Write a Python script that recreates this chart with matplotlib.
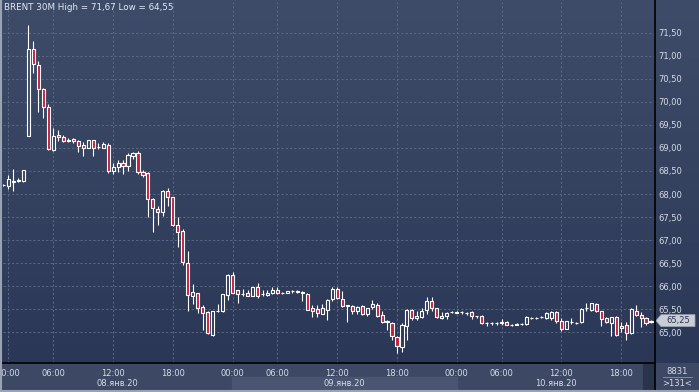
import numpy as np
import matplotlib
matplotlib.use("Agg")
import matplotlib.pyplot as plt
from matplotlib.colors import LinearSegmentedColormap
from matplotlib.patches import Rectangle, Polygon
from matplotlib.lines import Line2D
from matplotlib.transforms import blended_transform_factory

# BRENT 30M candles (open, high, low, close)
opens = [68.20, 68.18, 68.27, 68.28, 68.29, 69.25, 71.15, 70.81, 70.29, 69.90,
         68.96, 69.28, 69.23, 69.17, 69.20, 69.15, 69.06, 68.99, 69.17, 69.03,
         69.01, 69.06, 68.50, 68.59, 68.67, 68.60, 68.83, 68.90, 68.48, 68.45,
         67.90, 67.67, 67.60, 68.06, 67.93, 67.33, 67.19, 66.50, 65.78, 65.85,
         65.54, 65.43, 64.94, 65.46, 65.47, 65.81, 66.25, 65.91, 65.83, 65.86,
         65.79, 65.99, 65.83, 65.80, 65.85, 65.92, 65.86, 65.86, 65.89, 65.88,
         65.88, 65.83, 65.52, 65.50, 65.40, 65.49, 65.71, 65.94, 65.72, 65.58,
         65.57, 65.45, 65.57, 65.40, 65.54, 65.59, 65.38, 65.25, 65.20, 64.89,
         64.67, 65.13, 65.49, 65.30, 65.33, 65.49, 65.67, 65.52, 65.30, 65.36,
         65.43, 65.42, 65.43, 65.42, 65.43, 65.35, 65.36, 65.20, 65.20, 65.20,
         65.19, 65.22, 65.16, 65.16, 65.18, 65.18, 65.31, 65.31, 65.32, 65.30,
         65.30, 65.43, 65.25, 65.06, 65.22, 65.20, 65.22, 65.52, 65.49, 65.62,
         65.45, 65.30, 65.20, 65.33, 65.14, 65.16, 64.99, 65.47, 65.38, 65.30,
         65.23]
highs = [68.22, 68.41, 68.55, 68.35, 68.52, 71.67, 71.33, 70.88, 70.31, 69.95,
         69.43, 69.38, 69.28, 69.21, 69.21, 69.17, 69.12, 69.18, 69.17, 69.10,
         69.12, 69.10, 68.67, 68.74, 68.74, 68.90, 68.92, 68.94, 68.52, 68.47,
         67.92, 67.73, 68.08, 68.14, 67.94, 67.50, 67.24, 66.77, 66.05, 65.85,
         65.60, 65.45, 65.45, 65.62, 65.83, 66.26, 66.30, 65.91, 65.93, 65.91,
         65.99, 66.07, 65.91, 65.92, 65.99, 65.99, 65.88, 65.90, 65.92, 65.92,
         65.90, 65.85, 65.59, 65.59, 65.62, 65.72, 65.98, 65.98, 65.90, 65.60,
         65.60, 65.57, 65.59, 65.52, 65.69, 65.63, 65.47, 65.27, 65.23, 64.91,
         65.19, 65.51, 65.51, 65.46, 65.52, 65.76, 65.77, 65.53, 65.44, 65.44,
         65.45, 65.45, 65.45, 65.43, 65.45, 65.36, 65.37, 65.23, 65.21, 65.21,
         65.28, 65.24, 65.18, 65.19, 65.19, 65.35, 65.33, 65.32, 65.35, 65.43,
         65.45, 65.45, 65.30, 65.25, 65.30, 65.22, 65.52, 65.64, 65.64, 65.64,
         65.47, 65.33, 65.33, 65.35, 65.21, 65.23, 65.53, 65.59, 65.43, 65.32,
         65.27]
lows = [68.18, 68.11, 68.07, 68.25, 68.26, 69.25, 70.62, 69.78, 69.64, 68.96,
        68.94, 69.15, 69.13, 69.13, 69.10, 68.92, 68.83, 68.99, 68.83, 68.97,
        68.99, 68.45, 68.43, 68.47, 68.43, 68.51, 68.77, 68.43, 68.38, 67.50,
        67.17, 67.33, 67.53, 67.75, 67.31, 66.86, 66.45, 65.45, 65.62, 65.42,
        65.05, 64.96, 64.91, 65.44, 65.44, 65.69, 65.86, 65.64, 65.79, 65.78,
        65.78, 65.74, 65.78, 65.78, 65.83, 65.83, 65.83, 65.84, 65.86, 65.86,
        65.67, 65.48, 65.33, 65.33, 65.39, 65.27, 65.68, 65.71, 65.54, 65.23,
        65.40, 65.40, 65.38, 65.35, 65.50, 65.33, 65.20, 65.04, 64.82, 64.55,
        64.57, 64.84, 65.27, 65.27, 65.30, 65.40, 65.47, 65.31, 65.28, 65.29,
        65.41, 65.41, 65.40, 65.37, 65.29, 65.31, 65.18, 65.13, 65.16, 65.16,
        65.15, 65.15, 65.13, 65.15, 65.15, 65.16, 65.28, 65.29, 65.30, 65.28,
        65.27, 65.20, 65.02, 65.06, 65.18, 65.18, 65.19, 65.47, 65.45, 65.43,
        65.14, 65.19, 64.91, 64.91, 65.01, 64.84, 64.97, 65.35, 65.11, 65.16,
        65.19]
closes = [68.20, 68.32, 68.29, 68.31, 68.52, 71.15, 70.83, 70.29, 69.88, 68.97,
          69.26, 69.23, 69.15, 69.16, 69.15, 69.05, 69.01, 69.17, 69.01, 69.03,
          69.08, 68.50, 68.58, 68.68, 68.60, 68.85, 68.90, 68.48, 68.42, 67.90,
          67.69, 67.62, 68.06, 67.93, 67.33, 67.17, 66.52, 65.81, 65.87, 65.53,
          65.42, 64.98, 65.45, 65.47, 65.83, 66.25, 65.86, 65.83, 65.83, 65.79,
          65.98, 65.78, 65.83, 65.86, 65.91, 65.85, 65.86, 65.89, 65.89, 65.90,
          65.85, 65.49, 65.47, 65.41, 65.52, 65.70, 65.94, 65.75, 65.57, 65.57,
          65.45, 65.54, 65.40, 65.52, 65.62, 65.35, 65.23, 65.22, 64.91, 64.70,
          65.16, 65.49, 65.30, 65.35, 65.47, 65.67, 65.52, 65.33, 65.36, 65.42,
          65.43, 65.43, 65.43, 65.42, 65.34, 65.35, 65.20, 65.20, 65.20, 65.20,
          65.21, 65.16, 65.16, 65.17, 65.18, 65.33, 65.31, 65.31, 65.32, 65.41,
          65.43, 65.25, 65.06, 65.25, 65.22, 65.20, 65.51, 65.52, 65.64, 65.45,
          65.28, 65.23, 65.33, 64.93, 65.09, 64.99, 65.51, 65.38, 65.30, 65.20,
          65.25]

tick_idx = [1, 10, 22, 34, 46, 55, 67, 79, 91, 100, 112, 124]
tick_labels = ["00:00", "06:00", "12:00", "18:00", "00:00", "06:00", "12:00",
               "18:00", "00:00", "06:00", "12:00", "18:00"]
day_bounds = [-0.1, 45.8, 91.0, 130.8]
day_labels = ["08.янв.20", "09.янв.20", "10.янв.20"]
price_ticks = [65.0, 65.5, 66.0, 66.5, 67.0, 67.5, 68.0, 68.5, 69.0, 69.5,
               70.0, 70.5, 71.0, 71.5]

W, H = 699, 392
txt = "#d6dbe4"


def frect(x0, y0, x1, y1):
    return [x0 / W, 1 - y1 / H, (x1 - x0) / W, (y1 - y0) / H]


fig = plt.figure(figsize=(W / 100, H / 100), dpi=100)
fig.patch.set_facecolor("#3d4964")

# gradient background
bg_cmap = LinearSegmentedColormap.from_list("bg", ["#3e4c69", "#2b3756"])
bg = fig.add_axes(frect(0, 0, W, 363))
bg.imshow(np.linspace(0, 1, 256)[:, None], aspect="auto", cmap=bg_cmap,
          extent=[0, 1, 0, 1])
bg.axis("off")

ax = fig.add_axes(frect(3, 2, 655, 363))
ax.set_facecolor("none")
ylo, yhi = 64.33, 72.17
ax.set_xlim(day_bounds[0], day_bounds[-1])
ax.set_ylim(ylo, yhi)
for s in ax.spines.values():
    s.set_visible(False)

ax.grid(True, color="#5b6986", linestyle=(0, (2.2, 2.2)), linewidth=0.7)
ax.set_axisbelow(True)

ax.yaxis.tick_right()
ax.set_yticks(price_ticks)
ax.set_yticklabels([f"{v:.2f}".replace(".", ",") for v in price_ticks])
ax.set_xticks(tick_idx)
ax.set_xticklabels(tick_labels)
ax.tick_params(axis="y", length=0, pad=2.5, labelsize=6, labelcolor=txt)
ax.tick_params(axis="x", length=0, pad=4, labelsize=6, labelcolor=txt)

o = np.array(opens)
h = np.array(highs)
l = np.array(lows)
c = np.array(closes)
x = np.arange(len(o))

ax.vlines(x, l, h, color="white", linewidth=0.8, zorder=3)
frac = (yhi - np.maximum(o, c)) / (yhi - ylo) * 361 / 363
fills = [bg_cmap(f) if cc >= oo else "#c81e3c" for f, oo, cc in zip(frac, o, c)]
ax.bar(x, np.abs(c - o), width=0.62, bottom=np.minimum(o, c), color=fills,
       edgecolor="white", linewidth=0.8, zorder=4)

# date row with shaded middle day
bt = blended_transform_factory(ax.transData, ax.transAxes)
y_band0 = (363 - 390) / 361
y_band1 = (363 - 377) / 361
ax.add_patch(Rectangle((day_bounds[1], y_band0), day_bounds[2] - day_bounds[1],
                       y_band1 - y_band0, transform=bt, color="#4a5671",
                       clip_on=False, zorder=0))
for i, lab in enumerate(day_labels):
    xc = (day_bounds[i] + day_bounds[i + 1]) / 2
    ax.text(xc, (363 - 383.5) / 361, lab, transform=bt, ha="center",
            va="center", fontsize=6, color=txt, clip_on=False)

# frame lines
fig.add_artist(Line2D([655 / W, 655 / W], [1 - 390 / H, 1], color="black", lw=1.2))
fig.add_artist(Line2D([0, 655 / W], [1 - 363 / H, 1 - 363 / H], color="black", lw=1.2))
fig.add_artist(Rectangle((643 / W, 1 - 390 / H), 11 / W, 26 / H,
                         transform=fig.transFigure, color="#29334b"))
fig.add_artist(Line2D([663 / W, 692 / W], [1 - 377 / H, 1 - 377 / H],
                      color="#8d96a8", lw=0.6))
fig.text(677 / W, 1 - 371 / H, "8831", ha="center", va="center",
         fontsize=6, color=txt)
fig.text(677 / W, 1 - 383.5 / H, ">131<", ha="center", va="center",
         fontsize=6, color=txt)
fig.add_artist(Line2D([0.001, 0.001], [0, 1], color="#9aa3b3", lw=1.5))
fig.add_artist(Line2D([0, 1], [0.002, 0.002], color="#9aa3b3", lw=1.5))

# last price marker
last = closes[-1]
mt = blended_transform_factory(fig.transFigure, ax.transData)
dh = 6 / 361 * (yhi - ylo)
ax.add_patch(Polygon([(656 / W, last), (661 / W, last + dh), (695 / W, last + dh),
                      (695 / W, last - dh), (661 / W, last - dh)],
                     closed=True, transform=mt, facecolor="#c9cdd5",
                     edgecolor="#9aa1ae", lw=0.5, clip_on=False, zorder=6))
ax.text(678 / W, last, f"{last:.2f}".replace(".", ","), transform=mt,
        ha="center", va="center", fontsize=6, color="#2b3550", zorder=7,
        clip_on=False)

fig.text(4 / W, 1 - 8 / H, "BRENT 30M High = 71,67 Low = 64,55",
         ha="left", va="center", fontsize=6.3, color="#e4e8ee")

fig.savefig("out.png", dpi=100)
